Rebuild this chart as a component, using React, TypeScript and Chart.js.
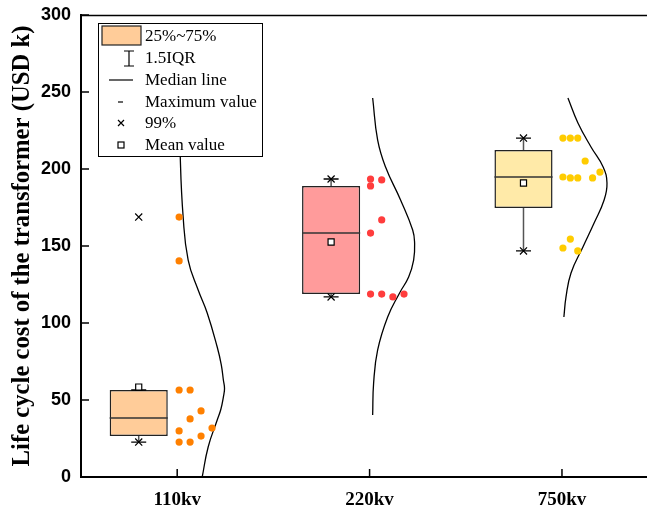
import React, { useEffect, useRef } from "react";
import { Chart, registerables } from "chart.js";

Chart.register(...registerables);

// ---------- data ----------
const categories = ["110kv", "220kv", "750kv"];
const yTicks = [0, 50, 100, 150, 200, 250, 300];
const yTitle = "Life cycle cost of the transformer (USD k)";

const q1 = [26.6, 118.8, 174.7];
const q3 = [56.5, 189.0, 212.3];
const medians = [38.3, 158.4, 194.8];
const means = [58.4, 152.6, 190.9];
const whiskerLow = [22.7, 116.9, 146.8];
const whiskerHigh = [56.5, 193.5, 220.1];
const p1 = [22.7, 116.9, 146.8];
const p99 = [168.8, 193.5, 220.1];

// raw data points (values) and their jitter column
const points110 = [168.8, 140.3, 56.5, 56.5, 42.9, 37.7, 31.8, 29.9, 26.6, 22.7, 22.7];
const cols110 = [0, 0, 0, 1, 2, 1, 3, 0, 2, 0, 1];
const points220 = [193.5, 192.9, 189.0, 166.9, 158.4, 118.8, 118.8, 116.9, 118.8];
const cols220 = [0, 1, 0, 1, 0, 0, 1, 2, 3];
const points750 = [220.1, 220.1, 220.1, 205.2, 198.0, 194.8, 194.2, 194.2, 194.2, 154.5, 148.7, 146.8];
const cols750 = [0, 1, 2, 3, 5, 0, 1, 2, 4, 1, 0, 2];

// distribution curves: value and curve width (in category units)
const curve110Y = [265, 207.8, 168.8, 140.9, 121.4, 106.5, 84.4, 73.0, 63.0, 57.5, 51.9, 44.0, 37.0, 19.5, 0];
const curve110W = [0.008, 0.016, 0.031, 0.057, 0.109, 0.156, 0.208, 0.229, 0.24, 0.246, 0.24, 0.227, 0.208, 0.161, 0.13];
const curve220Y = [246.1, 218.8, 201.3, 179.9, 160.4, 151.9, 140.9, 129.9, 119.5, 103.9, 82.5, 61.0, 40.3];
const curve220W = [0.016, 0.042, 0.083, 0.161, 0.224, 0.234, 0.229, 0.203, 0.156, 0.094, 0.042, 0.021, 0.016];
const curve750Y = [246.1, 229.9, 214.3, 201.3, 190.9, 179.9, 164.9, 149.4, 132.5, 116.9, 103.9];
const curve750W = [0.031, 0.083, 0.151, 0.214, 0.234, 0.219, 0.167, 0.109, 0.047, 0.021, 0.01];

// ---------- styles ----------
const boxFill = ["#FFCC99", "#FF9B9B", "#FFEAA8"];
const pointColor = ["#FF8000", "#FF3D3D", "#FFCC00"];
const boxOffset = -0.2;
const boxWidth = 0.302;
const jitterStart = [0.01, 0.005, 0.005];
const jitterStep = [0.057, 0.058, 0.0385];

const legendItems = ["25%~75%", "1.5IQR", "Median line", "Maximum value", "99%", "Mean value"];

const decorPlugin = {
  id: "decor",
  afterDraw(chart: any) {
    const { ctx, chartArea } = chart;
    const xs = chart.scales.x;
    const ys = chart.scales.y;
    ctx.save();
    ctx.strokeStyle = "#000";
    // top border
    ctx.lineWidth = 1.5;
    ctx.beginPath();
    ctx.moveTo(chartArea.left, chartArea.top + 0.5);
    ctx.lineTo(chartArea.right, chartArea.top + 0.5);
    ctx.stroke();
    // inward ticks
    ctx.lineWidth = 1.5;
    yTicks.forEach((v) => {
      const py = ys.getPixelForValue(v);
      ctx.beginPath();
      ctx.moveTo(chartArea.left, py);
      ctx.lineTo(chartArea.left + 8, py);
      ctx.stroke();
    });
    categories.forEach((_, i) => {
      const px = xs.getPixelForValue(i + 1);
      ctx.beginPath();
      ctx.moveTo(px, chartArea.bottom);
      ctx.lineTo(px, chartArea.bottom - 8);
      ctx.stroke();
    });

    // legend
    const L = 98, T = 23, W = 164, H = 133;
    ctx.fillStyle = "#fff";
    ctx.fillRect(L, T, W, H);
    ctx.lineWidth = 1;
    ctx.strokeStyle = "#000";
    ctx.strokeRect(L + 0.5, T + 0.5, W, H);
    const rows = [36, 58, 80, 102, 123, 145];
    const cx = 121;
    // 1 box
    ctx.fillStyle = boxFill[0];
    ctx.fillRect(102, 26, 39, 19);
    ctx.lineWidth = 1.2;
    ctx.strokeStyle = "#222";
    ctx.strokeRect(102, 26, 39, 19);
    ctx.strokeStyle = "#000";
    // 2 I-beam
    ctx.beginPath();
    ctx.moveTo(cx + 8, rows[1] - 7);
    ctx.lineTo(cx + 8, rows[1] + 8);
    ctx.moveTo(cx + 3, rows[1] - 7);
    ctx.lineTo(cx + 13, rows[1] - 7);
    ctx.moveTo(cx + 3, rows[1] + 8);
    ctx.lineTo(cx + 13, rows[1] + 8);
    ctx.stroke();
    // 3 median line
    ctx.beginPath();
    ctx.moveTo(109, rows[2]);
    ctx.lineTo(133, rows[2]);
    ctx.stroke();
    // 4 dash
    ctx.beginPath();
    ctx.moveTo(cx - 3, rows[3]);
    ctx.lineTo(cx + 2, rows[3]);
    ctx.stroke();
    // 5 cross
    ctx.beginPath();
    ctx.moveTo(cx - 3, rows[4] - 3);
    ctx.lineTo(cx + 3, rows[4] + 3);
    ctx.moveTo(cx + 3, rows[4] - 3);
    ctx.lineTo(cx - 3, rows[4] + 3);
    ctx.stroke();
    // 6 square
    ctx.strokeRect(cx - 3, rows[5] - 3, 6, 6);
    // texts
    ctx.fillStyle = "#000";
    ctx.font = '17px "Liberation Serif", "Times New Roman", serif';
    ctx.textBaseline = "middle";
    ctx.textAlign = "left";
    legendItems.forEach((t, i) => ctx.fillText(t, 145, rows[i] + 1));
    ctx.restore();
  },
};

export default function App() {
  const ref = useRef<HTMLCanvasElement>(null);
  useEffect(() => {
    const boxX = categories.map((_, i) => i + 1 + boxOffset);
    const half = boxWidth / 2;
    const datasets: any[] = [];

    // boxes
    datasets.push({
      type: "bar",
      data: boxX.map((x, i) => ({ x, y: [q1[i], q3[i]] })),
      backgroundColor: boxFill,
      borderColor: "#222",
      borderWidth: 1.5,
      borderSkipped: false,
      barPercentage: boxWidth,
      categoryPercentage: 1,
      grouped: false,
      order: 20,
    });

    // whiskers
    boxX.forEach((x, i) => {
      datasets.push({
        type: "line",
        data: [{ x, y: q3[i] }, { x, y: whiskerHigh[i] }],
        borderColor: "#555",
        borderWidth: 1.5,
        pointRadius: 0,
        order: 10,
      });
      datasets.push({
        type: "line",
        data: [{ x, y: q1[i] }, { x, y: whiskerLow[i] }],
        borderColor: "#555",
        borderWidth: 1.5,
        pointRadius: 0,
        order: 10,
      });
      // median
      datasets.push({
        type: "line",
        data: [{ x: x - half, y: medians[i] }, { x: x + half, y: medians[i] }],
        borderColor: "#333",
        borderWidth: 1.5,
        pointRadius: 0,
        order: 5,
      });
    });

    // caps (min / max dashes)
    datasets.push({
      type: "scatter",
      data: boxX.flatMap((x, i) => [{ x, y: whiskerLow[i] }, { x, y: whiskerHigh[i] }]),
      pointStyle: "line",
      pointRadius: 7.5,
      borderColor: "#000",
      borderWidth: 1.3,
      order: 4,
    });
    // 1% / 99% crosses
    datasets.push({
      type: "scatter",
      data: boxX.flatMap((x, i) => [{ x, y: p1[i] }, { x, y: p99[i] }]),
      pointStyle: "crossRot",
      pointRadius: 5,
      borderColor: "#000",
      borderWidth: 1.2,
      order: 3,
    });
    // means
    datasets.push({
      type: "scatter",
      data: boxX.map((x, i) => ({ x, y: means[i] })),
      pointStyle: "rect",
      pointRadius: 4.3,
      backgroundColor: "#fff",
      borderColor: "#000",
      borderWidth: 1.2,
      order: 2,
    });

    // raw data points
    const groups = [
      [points110, cols110],
      [points220, cols220],
      [points750, cols750],
    ];
    groups.forEach(([vals, cols], g) => {
      datasets.push({
        type: "scatter",
        data: vals.map((v, k) => ({ x: g + 1 + jitterStart[g] + cols[k] * jitterStep[g], y: v })),
        pointRadius: 3.6,
        pointStyle: "circle",
        backgroundColor: pointColor[g],
        borderWidth: 0,
        order: 6,
      });
    });

    // distribution curves
    const curves = [
      [curve110Y, curve110W],
      [curve220Y, curve220W],
      [curve750Y, curve750W],
    ];
    curves.forEach(([ys, ws], g) => {
      datasets.push({
        type: "line",
        data: ys.map((y, k) => ({ x: g + 1 + ws[k], y })),
        borderColor: "#000",
        borderWidth: 1.3,
        pointRadius: 0,
        tension: 0.45,
        order: 7,
      });
    });

    const chart = new Chart(ref.current!, {
      type: "bar",
      data: { datasets },
      plugins: [decorPlugin],
      options: {
        animation: false,
        responsive: false,
        devicePixelRatio: 1,
        layout: { padding: { top: 15, right: 0, left: 0, bottom: 0 } },
        plugins: { legend: { display: false }, tooltip: { enabled: false } },
        scales: {
          x: {
            type: "linear",
            min: 0.5,
            max: 3.443,
            offset: false,
            grid: { display: false, drawTicks: false },
            border: { display: true, color: "#000", width: 2 },
            afterBuildTicks: (s: any) => {
              s.ticks = categories.map((_, i) => ({ value: i + 1 }));
            },
            afterFit: (s: any) => {
              s.height = 34;
              s.paddingLeft = 0;
              s.paddingRight = 0;
            },
            ticks: {
              autoSkip: false,
              maxRotation: 0,
              padding: 12,
              color: "#000",
              font: { family: '"Liberation Serif", "Times New Roman", serif', size: 19, weight: "bold" },
              callback: (v: any) => categories[Math.round(v) - 1] ?? "",
            },
          },
          y: {
            type: "linear",
            min: 0,
            max: 300,
            grid: { display: false, drawTicks: false },
            border: { display: true, color: "#000", width: 2 },
            afterBuildTicks: (s: any) => {
              s.ticks = yTicks.map((v) => ({ value: v }));
            },
            afterFit: (s: any) => {
              s.width = 81;
              s.paddingTop = 0;
              s.paddingBottom = 0;
            },
            ticks: {
              padding: 10,
              color: "#000",
              font: { family: '"Liberation Sans", Arial, sans-serif', size: 18, weight: "bold" },
            },
            title: {
              display: true,
              text: yTitle,
              color: "#000",
              padding: { top: 8, bottom: 0 },
              font: { family: '"Liberation Serif", "Times New Roman", serif', size: 24.7, weight: "bold" },
            },
          },
        },
      },
    } as any);
    return () => chart.destroy();
  }, []);

  return (
    <div style={{ position: "absolute", left: 0, top: 0, width: 647, height: 511, overflow: "hidden", background: "#fff" }}>
      <canvas ref={ref} width={656} height={511} style={{ display: "block" }} />
    </div>
  );
}
